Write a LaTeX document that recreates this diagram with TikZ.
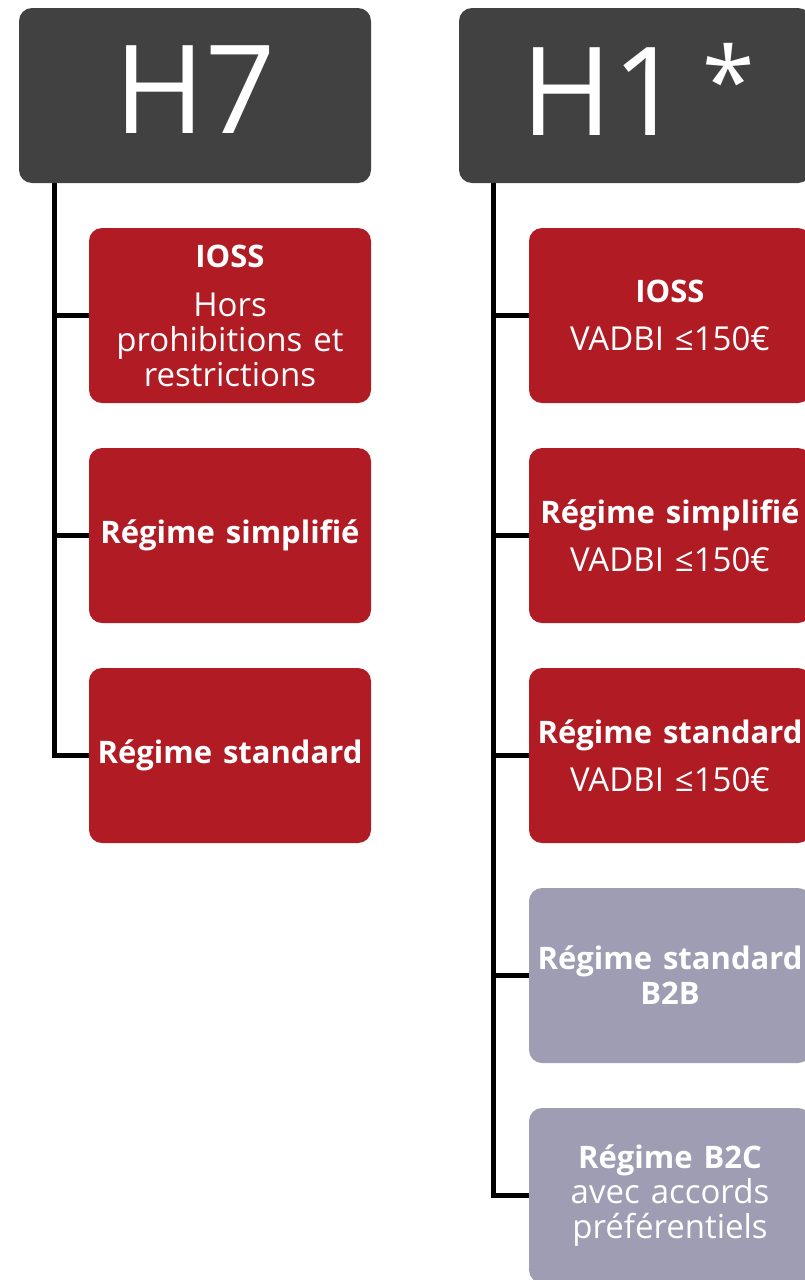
\documentclass[tikz,border=0pt]{standalone}
\usepackage{fontspec}
\setmainfont{Open Sans}
\definecolor{hdrgray}{HTML}{414141}
\definecolor{boxred}{HTML}{B01B24}
\definecolor{boxlav}{HTML}{9E9DB4}
\newcommand{\bl}[1]{{\fontsize{31}{35}\selectfont\bfseries #1}}
\tikzset{
  hdr/.style={fill=hdrgray, rounded corners=13pt, minimum width=352pt, minimum height=175pt,
    inner sep=0pt, text=white, font=\fontsize{123}{123}\selectfont, text depth=12pt},
  item/.style={rounded corners=13pt, minimum width=282pt, minimum height=175pt,
    inner sep=0pt, text width=282pt, align=center, text=white, font=\fontsize{33}{35}\selectfont},
  redbox/.style={item, fill=boxred},
  lavbox/.style={item, fill=boxlav},
  conn/.style={line width=5pt, black}
}
\begin{document}
\begin{tikzpicture}[x=1pt,y=-1pt]
\useasboundingbox (0,0) rectangle (805,1280);
\clip (0,0) rectangle (805,1280);
% headers
\node[hdr] (h7) at (195,95.5) {H7};
\node[hdr] (h1) at (635,95.5) {\hspace{6pt}H1\hspace{20pt}\raisebox{20pt}{\fontsize{95}{95}\selectfont *}};
% left column
\node[redbox] (l1) at (230,315.5) {\bl{IOSS}\\[14pt]Hors\\prohibitions et\\restrictions};
\node[redbox] (l2) at (230,535.5) {\bl{Régime simplifié}};
\node[redbox] (l3) at (230,755.5) {\bl{Régime standard}};
% right column
\node[redbox] (r1) at (670,315.5) {\bl{IOSS}\\[13pt]VADBI ≤150€};
\node[redbox] (r2) at (670,535.5) {\bl{Régime simplifié}\\[13pt]VADBI ≤150€};
\node[redbox] (r3) at (670,755.5) {\bl{Régime standard}\\[13pt]VADBI ≤150€};
\node[lavbox] (r4) at (670,975.5) {\bl{Régime standard}\\\bl{B2B}};
\node[lavbox] (r5) at (670,1195.5) {\bl{Régime B2C}\\avec accords\\préférentiels};
% trunks
\coordinate (lt) at ([xshift=35.5pt]h7.south west);
\coordinate (rt) at ([xshift=35pt]h1.south west);
\draw[conn] (lt) |- (l3.west);
\draw[conn] (lt |- l1.west) -- (l1.west);
\draw[conn] (lt |- l2.west) -- (l2.west);
\draw[conn] (rt) |- (r5.west);
\draw[conn] (rt |- r1.west) -- (r1.west);
\draw[conn] (rt |- r2.west) -- (r2.west);
\draw[conn] (rt |- r3.west) -- (r3.west);
\draw[conn] (rt |- r4.west) -- (r4.west);
\end{tikzpicture}
\end{document}
